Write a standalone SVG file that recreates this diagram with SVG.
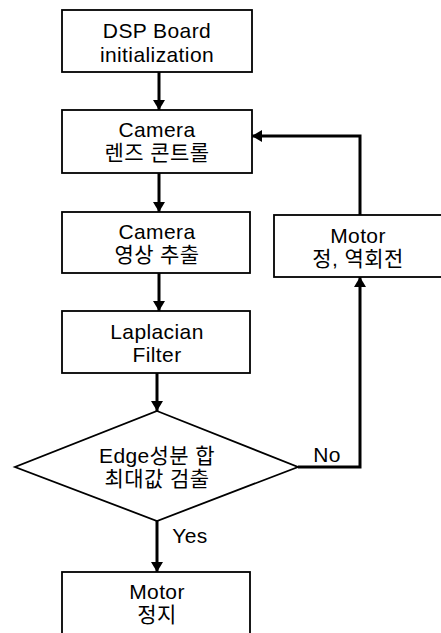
<svg xmlns="http://www.w3.org/2000/svg" width="441" height="633" viewBox="0 0 441 633">
<defs>
<marker id="ah" markerWidth="10" markerHeight="12" refX="10" refY="5" orient="auto" markerUnits="userSpaceOnUse" viewBox="0 0 10 10" preserveAspectRatio="none">
<path d="M0,0 L10,5 L0,10 z" fill="#000"/>
</marker>
<style>
.box{fill:#fff;stroke:#000;stroke-width:1.8}
.t{font-family:"Liberation Sans","Noto Sans CJK KR",sans-serif;font-size:21px;letter-spacing:0.4px;fill:#000;text-anchor:middle}
.c{fill:none;stroke:#000;stroke-width:3}
</style>
</defs>
<g id="connectors">
<line class="c" x1="159" y1="72" x2="159" y2="110" marker-end="url(#ah)"/>
<line class="c" x1="159" y1="173" x2="159" y2="212" marker-end="url(#ah)"/>
<line class="c" x1="159" y1="273" x2="159" y2="311" marker-end="url(#ah)"/>
<line class="c" x1="157" y1="373" x2="157" y2="411" marker-end="url(#ah)"/>
<line class="c" x1="157" y1="521" x2="157" y2="572" marker-end="url(#ah)"/>
<polyline class="c" points="298,467 360,467 360,277" marker-end="url(#ah)"/>
<polyline class="c" points="360,215 360,136 252,136" marker-end="url(#ah)"/>
<text class="t" x="190" y="543">Yes</text>
<text class="t" x="327" y="462">No</text>
</g>
<g id="n1"><rect class="box" x="62" y="10" width="190" height="62"/><text class="t" x="157" y="38">DSP Board</text><text class="t" x="157" y="62">initialization</text></g>
<g id="n2"><rect class="box" x="62" y="110" width="190" height="63"/><text class="t" x="157" y="137">Camera</text><text class="t" x="157" y="160">렌즈 콘트롤</text></g>
<g id="n3"><rect class="box" x="62" y="212" width="188" height="61"/><text class="t" x="157" y="239">Camera</text><text class="t" x="157" y="262">영상 추출</text></g>
<g id="n4"><rect class="box" x="62" y="311" width="188" height="62"/><text class="t" x="157" y="339">Laplacian</text><text class="t" x="157" y="362">Filter</text></g>
<g id="n5"><polygon class="box" points="157,411 298,467 157,521 15,467"/><text class="t" x="157" y="463">Edge성분 합</text><text class="t" x="157" y="486">최대값 검출</text></g>
<g id="n6"><rect class="box" x="274" y="215" width="180" height="62"/><text class="t" x="358" y="243">Motor</text><text class="t" x="358" y="266">정, 역회전</text></g>
<g id="n7"><rect class="box" x="62" y="572" width="188" height="70"/><text class="t" x="157" y="599">Motor</text><text class="t" x="157" y="622">정지</text></g>
</svg>
